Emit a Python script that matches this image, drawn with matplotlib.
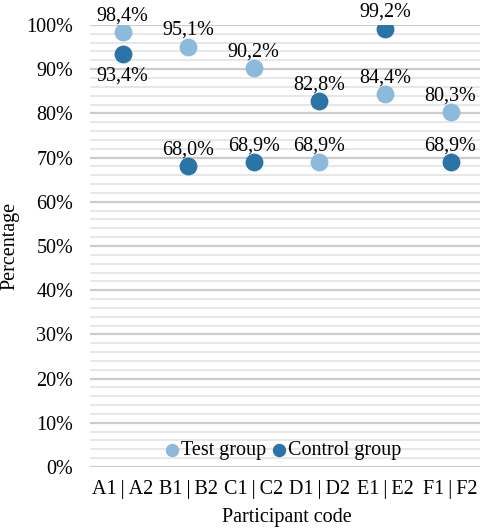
import matplotlib.pyplot as plt
from matplotlib.ticker import MultipleLocator, FuncFormatter

plt.rcParams["font.family"] = ["Liberation Serif", "DejaVu Serif"]

codes = ["A1 | A2", "B1 | B2", "C1 | C2", "D1 | D2", "E1 | E2", "F1 | F2"]
test_group = [98.4, 95.1, 90.2, 68.9, 84.4, 80.3]
control_group = [93.4, 68.0, 68.9, 82.8, 99.2, 68.9]

LIGHT = "#8db9db"
DARK = "#2b74a8"
FS = 14.5

fig = plt.figure(figsize=(4.8, 5.28), dpi=100)
ax = fig.add_axes([0.187, 0.1155, 0.82, 0.8372])

x = range(len(codes))
ax.scatter(x, test_group, s=165, color=LIGHT, zorder=3, label="Test group", linewidths=0)
ax.scatter(x, control_group, s=165, color=DARK, zorder=3, label="Control group", linewidths=0)


def pct(v):
    return f"{v:.1f}%".replace(".", ",")


for i, (t, c) in enumerate(zip(test_group, control_group)):
    ax.annotate(pct(t), (i, t), xytext=(0, 8.5), textcoords="offset points",
                ha="center", va="baseline", fontsize=FS, annotation_clip=False)
    # control label goes below when it sits just under the test point
    below = 0 < t - c < 8
    ax.annotate(pct(c), (i, c), xytext=(0, -9 if below else 8.5), textcoords="offset points",
                ha="center", va="top" if below else "baseline", fontsize=FS,
                annotation_clip=False)

ax.set_xlim(-0.5, len(codes) - 0.5)
ax.set_ylim(0, 100)
ax.set_xticks(list(x))
ax.set_xticklabels([c.replace(" ", "\u2009") for c in codes])
ax.yaxis.set_major_locator(MultipleLocator(10))
ax.yaxis.set_minor_locator(MultipleLocator(2))
ax.yaxis.set_major_formatter(FuncFormatter(lambda v, _: f"{v:.0f}%"))
ax.grid(axis="y", which="major", color="#c9cdcd", linewidth=1.6, zorder=0)
ax.grid(axis="y", which="minor", color="#e6e8e8", linewidth=1.4, zorder=0)
ax.set_axisbelow(True)
ax.tick_params(axis="both", which="both", length=0, labelsize=FS)
ax.tick_params(axis="y", pad=12)
ax.tick_params(axis="x", pad=9)
for s in ax.spines.values():
    s.set_visible(False)

ax.set_xlabel("Participant code", fontsize=FS, labelpad=7)
ax.set_ylabel("Percentage", fontsize=FS, labelpad=5)

ax.legend(loc="lower center", bbox_to_anchor=(0.49, -0.012), ncol=2, frameon=False,
          fontsize=FS, handletextpad=0.05, handlelength=0.8, columnspacing=0.2,
          markerscale=0.75, borderaxespad=0.2)

fig.savefig("out.png", dpi=100)
